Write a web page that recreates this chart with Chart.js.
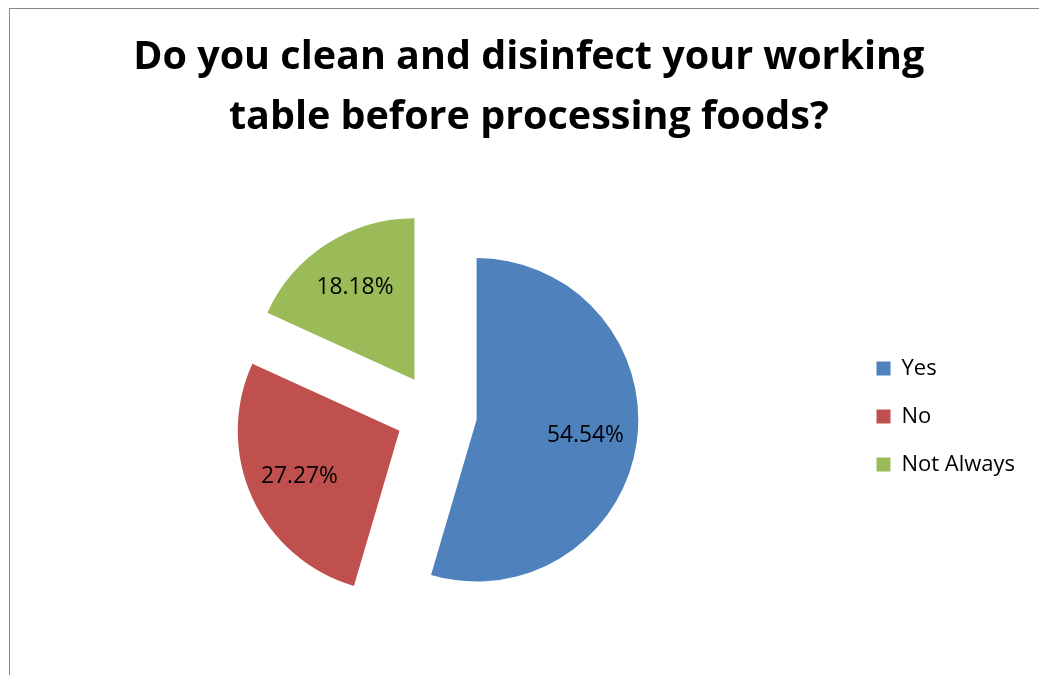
<!DOCTYPE html>
<html><head><meta charset="utf-8">
<script src="https://cdn.jsdelivr.net/npm/chart.js@4"></script>
<style>
html,body{margin:0;padding:0;background:#fff;}
#wrap{position:relative;width:1039px;height:675px;overflow:hidden;background:#fff;}
#frame{position:absolute;left:9px;top:8px;width:1200px;height:900px;border-left:1px solid #888888;border-top:1px solid #888888;}
canvas{position:absolute;left:0;top:0;}
</style></head><body>
<div id="wrap"><div id="frame"></div><canvas id="c" width="1039" height="675"></canvas></div>
<script>
const categories = ['Yes', 'No', 'Not Always'];
const percentages = [54.54, 27.27, 18.18];
const titleLines = ['Do you clean and disinfect your working', 'table before processing foods?'];
const sliceColors = ['#4F81BD', '#C0504D', '#9BBB59'];

const FONT = 'Open Sans';
const TITLE_SIZE = 39.5;
const LEGEND_SIZE = 22;
const LABEL_SIZE = 22.8;
const PIE_RADIUS = 161.7;
const EXPLODE = 40.6;
const LABEL_FRAC = 0.68;
const LEGEND_PAD = 48 - LEGEND_SIZE;
const LEGEND_W = 184.8;
const LEGEND_SHIFT_Y = 2.5;

const explodePlugin = {
  id: 'explode',
  afterDatasetUpdate(chart, args) {
    const meta = chart.getDatasetMeta(args.index);
    meta.data.forEach(arc => {
      const mid = (arc.startAngle + arc.endAngle) / 2;
      arc.x += Math.cos(mid) * EXPLODE;
      arc.y += Math.sin(mid) * EXPLODE;
    });
  }
};

const legendWidthPlugin = {
  id: 'legendWidth',
  beforeInit(chart) {
    const lg = chart.legend;
    if (!lg) return;
    const orig = lg.fit;
    lg.fit = function() { orig.call(this); this.width = LEGEND_W; };
  },
  afterLayout(chart) {
    const lg = chart.legend;
    if (!lg) return;
    lg.top += LEGEND_SHIFT_Y;
    lg.bottom += LEGEND_SHIFT_Y;
  }
};

const labelPlugin = {
  id: 'sliceLabels',
  afterDatasetsDraw(chart) {
    const ctx = chart.ctx;
    const meta = chart.getDatasetMeta(0);
    ctx.save();
    ctx.font = LABEL_SIZE + 'px "' + FONT + '"';
    ctx.fillStyle = '#000';
    ctx.textAlign = 'center';
    ctx.textBaseline = 'middle';
    meta.data.forEach((arc, i) => {
      const mid = (arc.startAngle + arc.endAngle) / 2;
      const r = arc.outerRadius * LABEL_FRAC;
      ctx.fillText(percentages[i].toFixed(2) + '%', arc.x + Math.cos(mid) * r, arc.y + Math.sin(mid) * r);
    });
    ctx.restore();
  }
};

new Chart(document.getElementById('c'), {
  type: 'pie',
  data: {
    labels: categories,
    datasets: [{
      data: percentages,
      backgroundColor: sliceColors,
      borderWidth: 0,
      hoverBorderWidth: 0,
      offset: 0,
      hoverOffset: 0
    }]
  },
  options: {
    responsive: false,
    animation: false,
    events: [],
    radius: PIE_RADIUS,
    layout: { padding: { left: LEGEND_PAD - 3.7, right: LEGEND_PAD - 22.3, top: 0, bottom: 10 } },
    plugins: {
      title: {
        display: true,
        text: titleLines,
        color: '#000',
        font: { family: FONT, weight: 'bold', size: TITLE_SIZE, lineHeight: '60px' },
        padding: { top: 28, bottom: 15 }
      },
      legend: {
        display: true,
        position: 'right',
        fullSize: false,
        labels: {
          boxWidth: 14,
          boxHeight: 14,
          padding: LEGEND_PAD,
          color: '#000',
          font: { family: FONT, size: LEGEND_SIZE }
        }
      },
      tooltip: { enabled: false }
    }
  },
  plugins: [explodePlugin, legendWidthPlugin, labelPlugin]
});
</script>
</body></html>
